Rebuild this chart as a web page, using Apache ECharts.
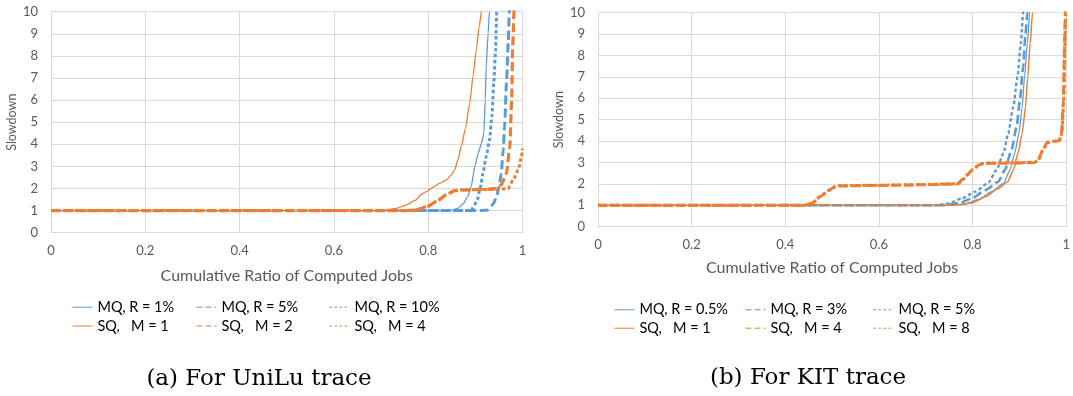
<!DOCTYPE html>
<html>
<head>
<meta charset="utf-8">
<script src="https://cdn.jsdelivr.net/npm/echarts@6/dist/echarts.min.js"></script>
<style>
html,body{margin:0;padding:0;background:#fff;}
#c{width:1073px;height:396px;}
</style>
</head>
<body>
<div id="c"></div>
<script>
// ---------- Data: [cumulative ratio, slowdown] ----------
// (a) UniLu trace
const uniluMQ1 = [[0,1],[0.845,1],[0.863,1.10],[0.874,1.30],[0.884,1.63],[0.891,2.08],[0.899,2.99],[0.906,3.59],[0.913,4.04],[0.918,4.49],[0.921,6.0],[0.923,7.5],[0.927,9.0],[0.930,10.0],[0.932,11]];
const uniluMQ5 = [[0,1],[0.909,1],[0.927,1.03],[0.938,1.30],[0.945,1.63],[0.950,2.08],[0.955,2.68],[0.959,3.74],[0.962,4.80],[0.966,6.76],[0.970,8.72],[0.972,10.0],[0.973,11]];
const uniluMQ10 = [[0,1],[0.881,1],[0.895,1.10],[0.904,1.48],[0.911,2.08],[0.916,2.68],[0.923,3.44],[0.930,4.19],[0.935,5.25],[0.939,6.76],[0.943,8.27],[0.945,9.85],[0.946,11]];
const uniluSQ1 = [[0,1],[0.703,1],[0.732,1.10],[0.753,1.25],[0.774,1.48],[0.785,1.73],[0.796,1.86],[0.810,2.05],[0.824,2.23],[0.838,2.38],[0.849,2.61],[0.856,2.84],[0.863,3.29],[0.870,3.89],[0.879,4.72],[0.888,5.85],[0.895,7.06],[0.902,8.27],[0.908,9.32],[0.913,10.0],[0.916,11]];
const uniluSQ2 = [[0,1],[0.753,1],[0.774,1.03],[0.796,1.15],[0.817,1.40],[0.838,1.70],[0.856,1.90],[0.874,1.93],[0.909,1.96],[0.945,1.99],[0.955,2.16],[0.966,2.68],[0.973,3.89],[0.977,6.0],[0.979,8.27],[0.982,10.0],[0.983,11]];
const uniluSQ4 = [[0,1],[0.753,1],[0.774,1.04],[0.796,1.17],[0.817,1.42],[0.838,1.72],[0.856,1.91],[0.874,1.94],[0.909,1.95],[0.945,1.96],[0.969,1.99],[0.980,2.38],[0.991,2.84],[0.998,3.44],[1.0,3.80]];
// (b) KIT trace
const kitMQ05 = [[0,1],[0.75,1],[0.784,1.06],[0.813,1.28],[0.841,1.64],[0.866,2.02],[0.880,2.65],[0.890,3.43],[0.899,4.36],[0.906,5.61],[0.911,7.01],[0.917,8.57],[0.922,10.0],[0.924,11]];
const kitMQ3 = [[0,1],[0.74,1],[0.770,1.09],[0.799,1.32],[0.827,1.71],[0.855,2.10],[0.869,2.65],[0.883,3.58],[0.894,4.67],[0.901,5.92],[0.908,7.48],[0.913,9.03],[0.917,10.0],[0.919,11]];
const kitMQ5 = [[0,1],[0.72,1],[0.749,1.09],[0.777,1.32],[0.806,1.64],[0.834,2.06],[0.851,2.65],[0.866,3.43],[0.876,4.36],[0.887,5.61],[0.896,7.01],[0.903,8.57],[0.908,10.0],[0.910,11]];
const kitSQ1 = [[0,1],[0.76,1],[0.777,1.04],[0.800,1.12],[0.827,1.40],[0.855,1.79],[0.875,2.10],[0.887,2.65],[0.897,3.43],[0.906,4.36],[0.913,5.61],[0.918,7.01],[0.923,8.57],[0.928,10.0],[0.930,11]];
const kitSQ4 = [[0,1],[0.442,1],[0.456,1.10],[0.474,1.40],[0.491,1.68],[0.509,1.90],[0.60,1.93],[0.70,1.96],[0.767,2.00],[0.777,2.18],[0.788,2.41],[0.799,2.65],[0.813,2.88],[0.823,2.96],[0.90,2.98],[0.932,3.00],[0.940,3.12],[0.950,3.58],[0.959,3.93],[0.985,4.02],[0.990,4.36],[0.994,5.92],[0.996,8.26],[0.998,10.0],[0.999,11]];
const kitSQ8 = [[0,1],[0.445,1],[0.458,1.12],[0.476,1.43],[0.493,1.70],[0.511,1.92],[0.60,1.94],[0.70,1.97],[0.770,2.01],[0.780,2.22],[0.790,2.45],[0.801,2.68],[0.815,2.90],[0.825,2.97],[0.90,2.99],[0.933,3.01],[0.941,3.15],[0.951,3.60],[0.960,3.95],[0.986,4.03],[0.991,4.40],[0.995,6.0],[0.997,8.3],[0.999,10.0],[1.0,11]];

// Legend labels and texts
const uniluLabels = ['MQ, R = 1%','MQ, R = 5%','MQ, R = 10%','SQ,   M = 1','SQ,   M = 2','SQ,   M = 4'];
const kitLabels = ['MQ, R = 0.5%','MQ, R = 3%','MQ, R = 5%','SQ,   M = 1','SQ,   M = 4','SQ,   M = 8'];
const captions = ['(a) For UniLu trace','(b) For KIT trace'];
const xAxisTitle = 'Cumulative Ratio of Computed Jobs';
const yAxisTitle = 'Slowdown';

// ---------- Styles ----------
const BLUE = '#5B9BD5', ORANGE = '#ED7D31';
const FONT = 'Lato';
const TICK = '#595959';

const uniluData = [uniluMQ1, uniluMQ5, uniluMQ10, uniluSQ1, uniluSQ2, uniluSQ4];
const kitData = [kitMQ05, kitMQ3, kitMQ5, kitSQ1, kitSQ4, kitSQ8];
const colors = [BLUE, BLUE, BLUE, ORANGE, ORANGE, ORANGE];
const uniluStyles = [
  {width:1.3, type:'solid'}, {width:3, type:[9,4]}, {width:3, type:[3.5,2.5]},
  {width:1.3, type:'solid'}, {width:3.2, type:[9,4]}, {width:3, type:[3.5,2.5]}
];
const kitStyles = [
  {width:1.3, type:'solid'}, {width:2.6, type:[9,4]}, {width:2.4, type:[3.5,2.5]},
  {width:1.5, type:'solid'}, {width:3, type:[9,4]}, {width:3, type:[3.5,2.5]}
];
const legendTypes = ['solid',[6,3],[2.5,2.5],'solid',[6,3],[2.5,2.5]];

const grids = [
  {left:51, top:11.7, width:471.5, height:221},
  {left:598, top:12.7, width:473, height:214}
];

function xAx(i){
  return {
    type:'value', gridIndex:i, min:0, max:1, interval:0.2,
    name:xAxisTitle, nameLocation:'middle', nameGap: i===0?35:33,
    nameTextStyle:{color:TICK, fontFamily:FONT, fontSize:16},
    axisLine:{show:true, lineStyle:{color:'#d9d9d9'}},
    axisTick:{show:false},
    axisLabel:{color:TICK, fontFamily:FONT, fontSize:13, margin:12},
    splitLine:{show:true, lineStyle:{color:'#d9d9d9', width:1}}
  };
}
function yAx(i){
  return {
    type:'value', gridIndex:i, min:0, max:10, interval:1,
    name:yAxisTitle, nameLocation:'middle', nameRotate:90, nameGap:33,
    nameTextStyle:{color:TICK, fontFamily:FONT, fontSize:12.5},
    axisLine:{show:false}, axisTick:{show:false},
    axisLabel:{color:TICK, fontFamily:FONT, fontSize:13, margin:13},
    splitLine:{show:true, lineStyle:{color:'#d9d9d9', width:1}}
  };
}

const legendKeySeries = [];   // empty series that only give the legend its thin key lines
const series = [];
const legends = [];
const panels = [
  {prefix:'a ', data:uniluData, labels:uniluLabels, styles:uniluStyles,
   cols:[72,196,329], rows:[306.7,325.5]},
  {prefix:'b ', data:kitData, labels:kitLabels, styles:kitStyles,
   cols:[614,745,873], rows:[309.3,327.7]}
];
panels.forEach((p, pi) => {
  p.data.forEach((d, k) => {
    const name = p.prefix + p.labels[k];
    const ls = {width:1.0, type:legendTypes[k], color:colors[k], cap:'butt'};
    legendKeySeries.push({
      type:'line', name:name, xAxisIndex:pi, yAxisIndex:pi, data:[],
      symbol:'none', showSymbol:false, lineStyle:ls, itemStyle:{color:colors[k]}
    });
    series.push({
      type:'line', name:name, xAxisIndex:pi, yAxisIndex:pi,
      data:d, showSymbol:false, symbol:'none', clip:true,
      smooth:0.2, smoothMonotone:'x',
      lineStyle:Object.assign({color:colors[k], cap:'butt'}, p.styles[k]),
      itemStyle:{color:colors[k]},
      z: 2 + k
    });
    const col = k % 3, row = Math.floor(k / 3);
    legends.push({
      data:[name],
      left:p.cols[col], top:p.rows[row] - 7, padding:0,
      itemWidth:20, itemHeight:14, itemGap:0,
      formatter: n => n.slice(2),
      textStyle:{color:'#000', fontFamily:FONT, fontSize:14.5},
      itemStyle:{color:'rgba(0,0,0,0)', borderColor:'rgba(0,0,0,0)', borderWidth:0},
      lineStyle:{width:1.0, type:legendTypes[k], color:colors[k]},
      selectedMode:false
    });
  });
});

const chart = echarts.init(document.getElementById('c'), null, {renderer:'canvas'});
chart.setOption({
  animation:false,
  backgroundColor:'#fff',
  grid:grids,
  xAxis:[xAx(0), xAx(1)],
  yAxis:[yAx(0), yAx(1)],
  legend:legends,
  series:legendKeySeries.concat(series),
  graphic:[
    {type:'text', x:259, y:379, style:{text:captions[0], fontFamily:'DejaVu Serif', fontSize:23, fill:'#000', textAlign:'center', textVerticalAlign:'middle'}},
    {type:'text', x:808, y:378, style:{text:captions[1], fontFamily:'DejaVu Serif', fontSize:23, fill:'#000', textAlign:'center', textVerticalAlign:'middle'}}
  ]
});
</script>
</body>
</html>
